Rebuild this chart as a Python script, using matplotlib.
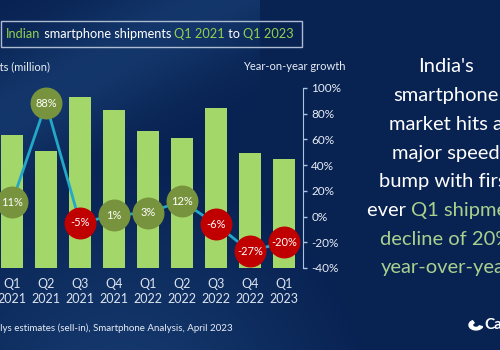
import numpy as np
import matplotlib.pyplot as plt
from matplotlib.patches import Rectangle, Wedge

plt.rcParams['font.family'] = ['Lato', 'DejaVu Sans']

# data
quarters = ["Q1\n2021", "Q2\n2021", "Q3\n2021", "Q4\n2021", "Q1\n2022",
            "Q2\n2022", "Q3\n2022", "Q4\n2022", "Q1\n2023"]
shipments = [37, 32.5, 47.5, 44, 38, 36, 44.5, 32, 30.3]   # million units
yoy_growth = [11, 88, -5, 1, 3, 12, -6, -27, -20]          # percent
pct_ticks = [-40, -20, 0, 20, 40, 60, 80, 100]

W, H = 500, 350
navy = '#0b2a5e'
bar_green = '#a3d76a'
circle_green = '#78933d'
circle_red = '#c00000'
line_col = '#23a8c8'
text_green = '#92d050'


def fx(x):
    return x / W


def fy(y):
    return 1 - y / H


fig = plt.figure(figsize=(5, 3.5), dpi=100)
fig.patch.set_facecolor(navy)

# background shading
bg = fig.add_axes([0, 0, 1, 1])
bg.set_axis_off()
yy, xx = np.mgrid[0:H, 0:W]
shade = np.zeros((H, W))
shade += 0.35 * np.exp(-((xx * 0.55 + yy - 120) / 70.0) ** 2) * (xx < 260)
arc = np.sqrt(((xx - 120) / 260.0) ** 2 + ((yy - 420) / 260.0) ** 2)
shade += 0.25 * np.clip(1 - arc, 0, 1) * 2
shade = np.clip(shade, 0, 1)
c0 = np.array([0x08, 0x22, 0x52]) / 255
c1 = np.array([0x2a, 0x5c, 0x98]) / 255
img = c0[None, None, :] * (1 - shade[..., None]) + c1[None, None, :] * shade[..., None]
bg.imshow(img, extent=[0, W, H, 0], aspect='auto')
bg.set_xlim(0, W)
bg.set_ylim(H, 0)

# chart axes
x = np.arange(len(quarters))
ax = fig.add_axes([0, fy(268), fx(303), (268 - 88) / H])
ax.patch.set_alpha(0)
ax.bar(x, shipments, width=0.66, color=bar_green, zorder=2)
ax.set_xlim(-0.353, 8.56)
ax.set_ylim(0, 50)
ax.set_yticks([])
for s in ax.spines.values():
    s.set_visible(False)
ax.set_xticks(x)
ax.set_xticklabels(quarters, color='#dce4f0', fontsize=9, linespacing=1.35)
ax.tick_params(axis='x', length=0, pad=7)

ax2 = ax.twinx()
ax2.set_ylim(-40, 100)
ax2.plot(x, yoy_growth, color=line_col, lw=2, zorder=3)
for xi, v in zip(x, yoy_growth):
    col = circle_green if v >= 0 else circle_red
    ax2.plot(xi, v, 'o', ms=23, color=col, mec='none', zorder=4, clip_on=False)
    ax2.text(xi, v, f"{v}%", ha='center', va='center', color='white',
             fontsize=8, zorder=5)
ax2.set_yticks(pct_ticks)
ax2.set_yticklabels([f"{t}%" for t in pct_ticks])
ax2.tick_params(axis='y', colors='#a9c4e4', labelcolor='#e8eef6', labelsize=8.5,
                length=3, width=1, pad=3)
for k, s in ax2.spines.items():
    s.set_visible(k == 'right')
ax2.spines['right'].set_color('#a9c4e4')

# axis titles
fig.text(fx(50), fy(67), "Shipments (million)", ha='right', va='center',
         color='#e8eef6', fontsize=8)
fig.text(fx(294), fy(67), "Year-on-year growth", ha='center', va='center',
         color='#e8eef6', fontsize=8)

# title box
fig.patches.append(Rectangle((fx(1), fy(47)), fx(301), 26 / H, fill=False,
                             ec='#aebcd2', lw=1, transform=fig.transFigure))

fig.canvas.draw()
renderer = fig.canvas.get_renderer()


def colored_text(cx, y, pieces, size):
    objs = []
    for txt, col in pieces:
        t = fig.text(0, fy(y), txt, color=col, fontsize=size, ha='left', va='center')
        objs.append(t)
    widths = [t.get_window_extent(renderer).width for t in objs]
    start = cx - sum(widths) / 2
    for t, w in zip(objs, widths):
        t.set_x(fx(start))
        start += w


colored_text(150, 34, [("Indian", text_green), (" smartphone shipments ", 'white'),
                       ("Q1 2021", text_green), (" to ", 'white'),
                       ("Q1 2023", text_green)], 9.2)

# headline on the right
headline = [
    [("India's", 'white')],
    [("smartphone", 'white')],
    [("market hits a", 'white')],
    [("major speed", 'white')],
    [("bump with first", 'white')],
    [("ever ", 'white'), ("Q1 shipment", '#a9d18e')],
    [("decline of 20%", '#a9d18e')],
    [("year-over-year", '#a9d18e')],
]
for i, pieces in enumerate(headline):
    colored_text(446, 67 + 28.7 * i, pieces, 14.5)

# source and logo
fig.text(fx(233), fy(328), "Source: Canalys estimates (sell-in), Smartphone Analysis, April 2023",
         ha='right', va='center', color='#e8eef6', fontsize=7)
fig.patches.append(Wedge((fx(476), fy(325)), 0.014, 120, 340, width=0.007,
                         color='white', transform=fig.transFigure))
fig.text(fx(484), fy(325), "Canalys", ha='left', va='center', color='white',
         fontsize=11, fontweight='bold')

fig.savefig('out.png', dpi=100, facecolor=fig.get_facecolor())
